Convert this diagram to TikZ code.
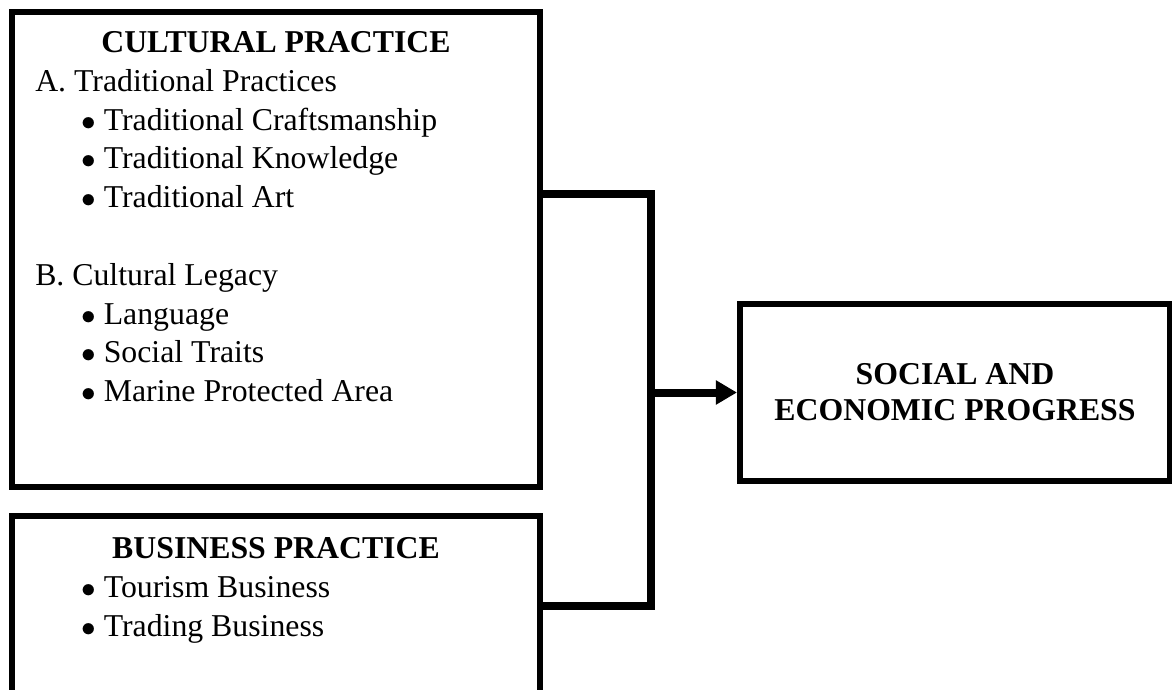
\documentclass[tikz,border=0pt]{standalone}
\usepackage{fontspec}
\setmainfont{Liberation Serif}
\usetikzlibrary{arrows.meta}
\newcommand{\diagfont}{\fontsize{22.6}{27.7}\selectfont}
\tikzset{
  box/.style={draw, line width=0.15cm, inner sep=0pt},
  head/.style={anchor=base, inner sep=0pt, font=\diagfont\bfseries},
  entry/.style={anchor=base west, inner sep=0pt, font=\diagfont},
  link/.style={line width=0.2cm}
}

\begin{document}
\begin{tikzpicture}[x=0.025cm, y=-0.025cm]
\clip (0,0) rectangle (1172,690);
\fill[white] (0,0) rectangle (1172,690);

% the three boxes
\node[box, minimum width=13.2cm, minimum height=11.875cm] (cultural) at (276,249.5) {};
\node[box, minimum width=13.2cm, minimum height=5.6cm] (business) at (276,628.5) {};
\node[box, minimum width=10.75cm, minimum height=4.425cm, align=center,
      font=\fontsize{22.6}{25.5}\selectfont\bfseries] (progress) at (955,392.5)
      {SOCIAL AND\\ECONOMIC PROGRESS};

% cultural practice
\node[head] (cultural-title) at (276,52.5) {CULTURAL PRACTICE};
\node[entry] (traditional) at (35,91.3) {A. Traditional Practices};
\foreach \lbl [count=\i] in {Traditional Craftsmanship,Traditional Knowledge,Traditional Art}
{
 \node[entry] (traditional-\i) at (81,{91.3+38.8*\i}) {$\bullet$ \lbl};
}
\node[entry] (legacy) at (35,285.3) {B. Cultural Legacy};
\foreach \lbl [count=\i] in {Language,Social Traits,Marine Protected Area}
{
 \node[entry] (legacy-\i) at (81,{285.3+38.8*\i}) {$\bullet$ \lbl};
}

% business practice
\node[head] (business-title) at (276,558) {BUSINESS PRACTICE};
\foreach \lbl [count=\i] in {Tourism Business,Trading Business}
{
 \node[entry] (business-\i) at (81,{558+39*\i}) {$\bullet$ \lbl};
}

% connectors
\coordinate (hub-top) at (651,194);
\coordinate (hub-bottom) at (651,606);
\draw[link] (cultural.east |- hub-top) -- (hub-top) -- (hub-bottom) -- (business.east |- hub-bottom);
\draw[link,-{Triangle[length=0.525cm,width=0.575cm]}] (progress.west -| hub-top) -- (progress.west);

\end{tikzpicture}
\end{document}
